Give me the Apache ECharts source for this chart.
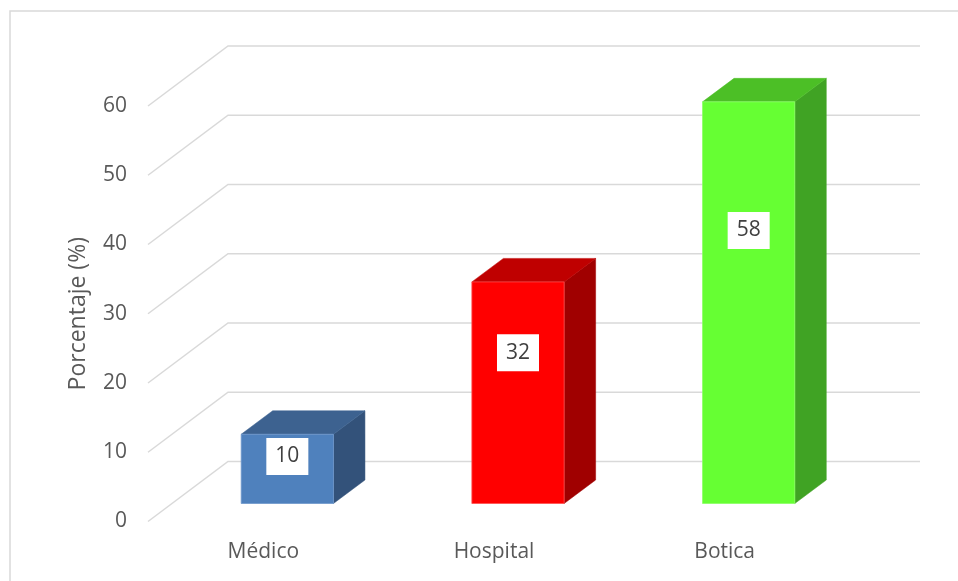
<!DOCTYPE html>
<html><head><meta charset="utf-8">
<script src="https://cdn.jsdelivr.net/npm/echarts@6/dist/echarts.min.js"></script>
<style>html,body{margin:0;padding:0;background:#fff}#c{width:958px;height:581px}</style>
</head><body><div id="c"></div>
<script>
const categories = ['Médico', 'Hospital', 'Botica'];
const values = [10, 32, 58];
const yTicks = [0, 10, 20, 30, 40, 50, 60];
const yAxisTitle = 'Porcentaje (%)';

const faceColors = [
  {front: '#4f81bd', top: '#3d6290', side: '#33527a', edge: '#6f98cc'},
  {front: '#ff0000', top: '#bf0000', side: '#a00000', edge: '#ff5050'},
  {front: '#66ff33', top: '#4cbf26', side: '#40a324', edge: '#8cff66'}
];
const WALL = {x: 80, y: -60};
const BAR_OFF = {x: 24, y: -18};
const BAR_DEPTH = {x: 31.5, y: -23.5};
const FONT = '"Open Sans", "Liberation Sans", sans-serif';

function gridRender(params, api) {
  const cs = params.coordSys;
  const y = api.coord([0, api.value(1)])[1];
  return {
    type: 'polyline',
    shape: {points: [[cs.x, y], [cs.x + WALL.x, y + WALL.y], [cs.x + cs.width + WALL.x, y + WALL.y]]},
    style: {stroke: '#d9d9d9', lineWidth: 1.5, fill: 'none'}
  };
}

function barRender(params, api) {
  const i = api.value(0), v = api.value(1);
  const c0 = api.coord([i, 0]), c1 = api.coord([i, v]);
  const w = api.size([1, 0])[0] * 0.4;
  const xl = c0[0] - w / 2 + BAR_OFF.x, xr = xl + w;
  const yb = c0[1] + BAR_OFF.y, yt = c1[1] + BAR_OFF.y;
  const dx = BAR_DEPTH.x, dy = BAR_DEPTH.y;
  const col = faceColors[params.dataIndex];
  const labelY = yb - (yb - yt) * 0.68;
  return {
    type: 'group',
    children: [
      {type: 'polygon', shape: {points: [[xr, yb], [xr + dx, yb + dy], [xr + dx, yt + dy], [xr, yt]]},
        style: {fill: col.side, stroke: col.side, lineWidth: 0.5}},
      {type: 'polygon', shape: {points: [[xl, yt], [xr, yt], [xr + dx, yt + dy], [xl + dx, yt + dy]]},
        style: {fill: col.top, stroke: col.top, lineWidth: 0.5}},
      {type: 'rect', shape: {x: xl, y: yt, width: w, height: yb - yt},
        style: {fill: col.front, stroke: col.edge, lineWidth: 0.8}},
      {type: 'text', x: (xl + xr) / 2, y: labelY,
        style: {text: String(v), fill: '#404040', fontSize: 21, fontFamily: FONT,
          align: 'center', verticalAlign: 'middle', backgroundColor: '#ffffff', padding: [8, 9]}}
    ]
  };
}

const chart = echarts.init(document.getElementById('c'), null, {renderer: 'canvas'});
chart.setOption({
  animation: false,
  backgroundColor: '#ffffff',
  grid: {left: 148, right: 118, top: 106, bottom: 59.5},
  xAxis: {
    type: 'category', data: categories,
    axisLine: {show: false}, axisTick: {show: false}, splitLine: {show: false},
    axisLabel: {color: '#595959', fontSize: 21, fontFamily: FONT, margin: 20}
  },
  yAxis: {
    type: 'value', min: 0, max: 60, interval: 10,
    axisLine: {show: false}, axisTick: {show: false}, splitLine: {show: false},
    axisLabel: {color: '#595959', fontSize: 21, fontFamily: FONT, margin: 21},
    name: yAxisTitle, nameLocation: 'middle', nameRotate: 90, nameGap: 58,
    nameTextStyle: {color: '#595959', fontSize: 23, fontFamily: FONT}
  },
  graphic: [{type: 'rect', silent: true, shape: {x: 10, y: 11, width: 1000, height: 1000},
    style: {fill: 'none', stroke: '#d9d9d9', lineWidth: 1.5}}],
  series: [
    {type: 'custom', z: 1, clip: false, silent: true, data: yTicks.map(t => [0, t]), renderItem: gridRender},
    {type: 'custom', z: 2, clip: false, data: values.map((v, i) => [i, v]), renderItem: barRender}
  ]
});
</script>
</body></html>
